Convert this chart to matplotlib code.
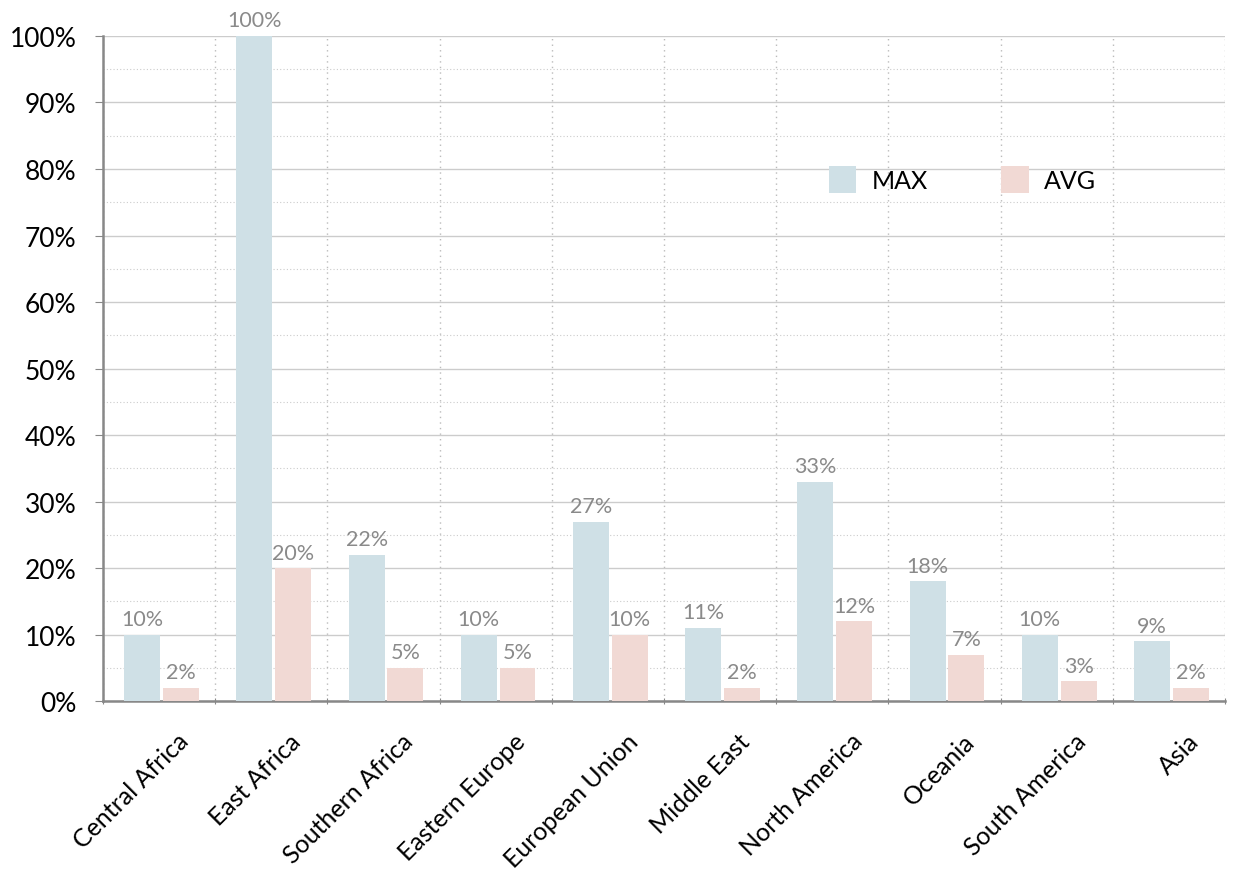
import matplotlib
matplotlib.use("Agg")
import matplotlib.pyplot as plt
from matplotlib.ticker import MultipleLocator, FixedLocator, FixedFormatter
import numpy as np

plt.rcParams['font.family'] = ['Lato', 'DejaVu Sans']

categories = ["Central Africa", "East Africa", "Southern Africa", "Eastern Europe",
              "European Union", "Middle East", "North America", "Oceania",
              "South America", "Asia"]
max_vals = [10, 100, 22, 10, 27, 11, 33, 18, 10, 9]
avg_vals = [2, 20, 5, 5, 10, 2, 12, 7, 3, 2]
yticks = [0, 10, 20, 30, 40, 50, 60, 70, 80, 90, 100]

c_max = "#cfe0e6"
c_avg = "#f1d9d4"

fig = plt.figure(figsize=(12.33, 8.7), dpi=100)
ax = fig.add_axes([0.0835, 0.193, 0.91, 0.7645])

n = len(categories)
x = np.arange(n)
w = 0.32
b1 = ax.bar(x + 0.35, max_vals, width=w, color=c_max, label="MAX", zorder=3)
b2 = ax.bar(x + 0.695, avg_vals, width=w, color=c_avg, label="AVG", zorder=3)

for bars, vals in ((b1, max_vals), (b2, avg_vals)):
    for rect, v in zip(bars, vals):
        ax.annotate(f"{v}%", (rect.get_x() + rect.get_width() / 2, v),
                    xytext=(0, 4), textcoords="offset points",
                    ha="center", va="bottom", fontsize=15.5, color="#8a8a8a", zorder=4)

ax.set_xlim(0, n)
ax.set_ylim(0, 100)

ax.set_yticks(yticks)
ax.set_yticklabels([f"{t}%" for t in yticks], fontsize=19)
ax.yaxis.set_minor_locator(MultipleLocator(5))

ax.set_xticks(np.arange(n + 1))
ax.set_xticklabels([])
ax.xaxis.set_minor_locator(FixedLocator(x + 0.66))
ax.xaxis.set_minor_formatter(FixedFormatter(categories))
for lab in ax.get_xticklabels(minor=True):
    lab.set_rotation(45)
    lab.set_ha("right")
    lab.set_va("top")
    lab.set_rotation_mode("anchor")
    lab.set_fontsize(18)
ax.tick_params(axis="x", which="minor", length=0, pad=20)
ax.tick_params(axis="x", which="major", length=5, color="#888888", direction="inout")
ax.tick_params(axis="y", which="major", length=6, color="#888888", pad=13)
ax.tick_params(axis="y", which="minor", length=0)

ax.grid(axis="y", which="major", color="#cccccc", linewidth=1, zorder=0)
ax.grid(axis="y", which="minor", color="#cccccc", linewidth=0.8, linestyle=(0, (1, 2)), zorder=0)
ax.grid(axis="x", which="major", color="#bbbbbb", linewidth=1, linestyle=(0, (1, 3)), zorder=0)

for s in ("top", "right"):
    ax.spines[s].set_visible(False)
for s in ("left", "bottom"):
    ax.spines[s].set_color("#888888")
    ax.spines[s].set_linewidth(1.8)

leg = ax.legend(loc="upper left", bbox_to_anchor=(0.627, 0.838), ncol=2, frameon=False,
                fontsize=18, handlelength=1.1, handleheight=1.3, columnspacing=2.95,
                handletextpad=0.6)

fig.savefig("out.png", dpi=100)
